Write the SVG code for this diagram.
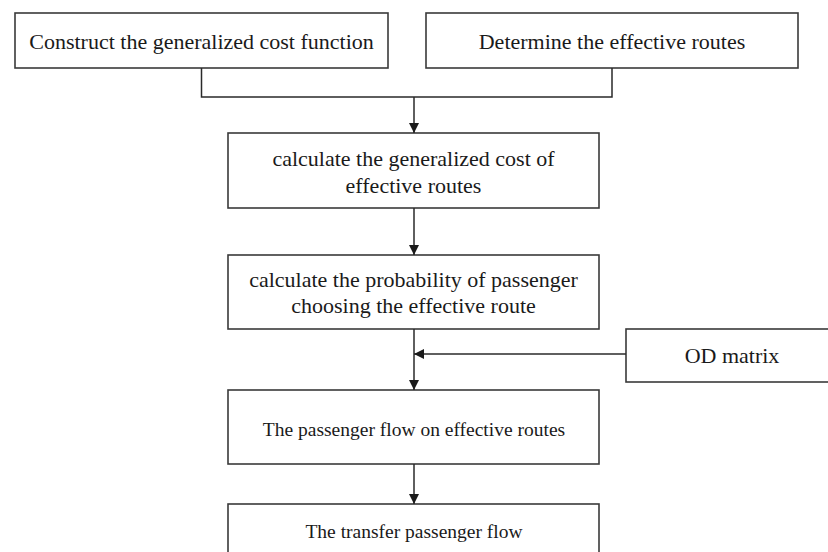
<svg xmlns="http://www.w3.org/2000/svg" width="828" height="552" viewBox="0 0 828 552">
<defs>
<style>
.box{fill:#fff;stroke:#3a3a3a;stroke-width:1.6}
.t{font-family:"Liberation Serif","Times New Roman",serif;font-size:22px;fill:#1a1a1a;text-anchor:middle;dominant-baseline:central}
.s{font-size:19.5px}
.c{fill:none;stroke:#2a2a2a;stroke-width:1.5}
</style>
<marker id="ah" viewBox="0 0 10 10" refX="10" refY="5" markerWidth="10" markerHeight="10" markerUnits="userSpaceOnUse" orient="auto">
<path d="M0,0 L10,5 L0,10 z" fill="#1a1a1a"/>
</marker>
</defs>
<rect width="828" height="552" fill="#fff"/>
<g id="n1"><rect class="box" x="15" y="13" width="373" height="55"/><text class="t" x="201.5" y="41">Construct the generalized cost function</text></g>
<g id="n2"><rect class="box" x="426" y="13" width="372" height="55"/><text class="t" x="612" y="41">Determine the effective routes</text></g>
<g id="n3"><rect class="box" x="228" y="133" width="371" height="75"/><text class="t" x="413.5" y="158">calculate the generalized cost of</text><text class="t" x="413.5" y="185">effective routes</text></g>
<g id="n4"><rect class="box" x="228" y="255" width="371" height="74"/><text class="t" x="413.5" y="279">calculate the probability of passenger</text><text class="t" x="413.5" y="305">choosing the effective route</text></g>
<g id="n5"><rect class="box" x="626" y="329" width="210" height="53"/><text class="t" x="732" y="355">OD matrix</text></g>
<g id="n6"><rect class="box" x="228" y="390" width="371" height="74"/><text class="t s" x="414" y="429">The passenger flow on effective routes</text></g>
<g id="n7"><rect class="box" x="228" y="504" width="371" height="60"/><text class="t s" x="414" y="531">The transfer passenger flow</text></g>
<g id="connectors">
<path class="c" d="M201.5,68 V97 H612 V68"/>
<path class="c" d="M414,97 V133" marker-end="url(#ah)"/>
<path class="c" d="M414,208 V255" marker-end="url(#ah)"/>
<path class="c" d="M414,329 V390" marker-end="url(#ah)"/>
<path class="c" d="M626,354 H414" marker-end="url(#ah)"/>
<path class="c" d="M414,464 V504" marker-end="url(#ah)"/>
</g>
</svg>
